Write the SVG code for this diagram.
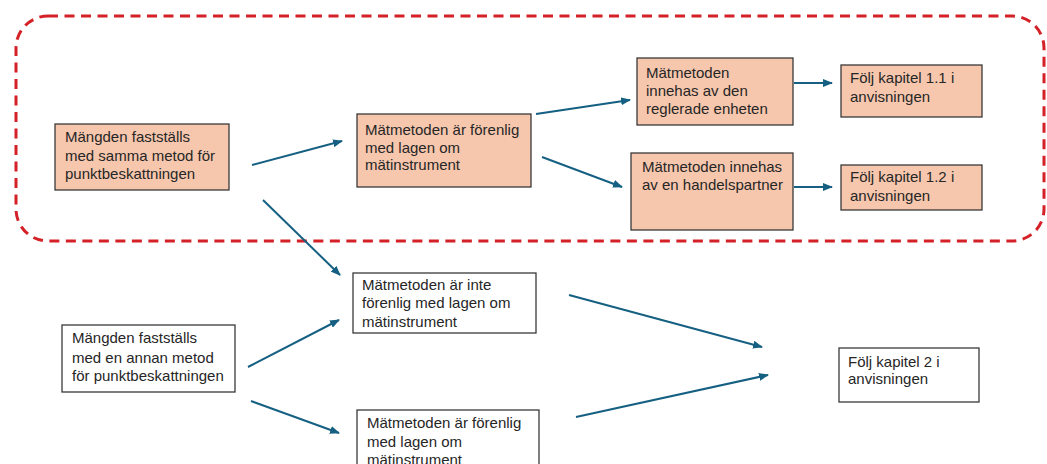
<svg xmlns="http://www.w3.org/2000/svg" width="1047" height="464" viewBox="0 0 1047 464">
<style>
.bg{fill:#ffffff}
.orange{fill:#F6C6AD;stroke:#3a3a3a;stroke-width:1.3}
.white{fill:#ffffff;stroke:#3a3a3a;stroke-width:1.3}
.lbl{font-family:"Liberation Sans",Arial,sans-serif;font-size:15px;fill:#262626}
.conn{stroke:#156082;stroke-width:2;fill:none;marker-end:url(#arr)}
.group{fill:none;stroke:#D42027;stroke-width:3;stroke-dasharray:10 6.5}
</style>
<defs>
<marker id="arr" markerUnits="userSpaceOnUse" markerWidth="10" markerHeight="8" refX="9" refY="4" orient="auto">
<path d="M0,0 L10,4 L0,8 Z" fill="#156082"/>
</marker>
</defs>
<rect class="bg" x="0" y="0" width="1047" height="464"/>
<g id="group-boundary">
<rect class="group" x="16" y="16" width="1028" height="225" rx="32" ry="32"/>
</g>
<g id="connectors">
<line class="conn" x1="252" y1="165" x2="342" y2="141"/>
<line class="conn" x1="263" y1="200" x2="340" y2="275"/>
<line class="conn" x1="536" y1="114" x2="630" y2="100"/>
<line class="conn" x1="542" y1="157" x2="622" y2="187"/>
<line class="conn" x1="794" y1="83" x2="832" y2="83"/>
<line class="conn" x1="794" y1="187" x2="832" y2="187"/>
<line class="conn" x1="248" y1="367" x2="339" y2="320"/>
<line class="conn" x1="251" y1="401" x2="339" y2="433"/>
<line class="conn" x1="569" y1="295" x2="762" y2="347"/>
<line class="conn" x1="576" y1="417" x2="768" y2="375"/>
</g>
<g id="node-same-method">
<rect class="orange" x="55" y="124" width="174" height="66"/>
<text class="lbl" x="65" y="142">Mängden fastställs</text>
<text class="lbl" x="65" y="161">med samma metod för</text>
<text class="lbl" x="65" y="179">punktbeskattningen</text>
</g>
<g id="node-compatible-top">
<rect class="orange" x="357" y="114" width="174" height="73"/>
<text class="lbl" x="365" y="135">Mätmetoden är förenlig</text>
<text class="lbl" x="365" y="153">med lagen om</text>
<text class="lbl" x="365" y="170">mätinstrument</text>
</g>
<g id="node-owned-regulated">
<rect class="orange" x="637" y="58" width="156" height="67"/>
<text class="lbl" x="646" y="78">Mätmetoden</text>
<text class="lbl" x="646" y="96">innehas av den</text>
<text class="lbl" x="646" y="114">reglerade enheten</text>
</g>
<g id="node-owned-partner">
<rect class="orange" x="631" y="153" width="162" height="77"/>
<text class="lbl" x="642" y="172">Mätmetoden innehas</text>
<text class="lbl" x="642" y="190">av en handelspartner</text>
</g>
<g id="node-chapter-1-1">
<rect class="orange" x="841" y="65" width="141" height="52"/>
<text class="lbl" x="850" y="83">Följ kapitel 1.1 i</text>
<text class="lbl" x="850" y="102">anvisningen</text>
</g>
<g id="node-chapter-1-2">
<rect class="orange" x="841" y="165" width="141" height="45"/>
<text class="lbl" x="850" y="182">Följ kapitel 1.2 i</text>
<text class="lbl" x="850" y="201">anvisningen</text>
</g>
<g id="node-not-compatible">
<rect class="white" x="353" y="273" width="183" height="60"/>
<text class="lbl" x="362" y="290">Mätmetoden är inte</text>
<text class="lbl" x="362" y="308">förenlig med lagen om</text>
<text class="lbl" x="362" y="327">mätinstrument</text>
</g>
<g id="node-other-method">
<rect class="white" x="62" y="325" width="173" height="67"/>
<text class="lbl" x="72" y="343">Mängden fastställs</text>
<text class="lbl" x="72" y="363">med en annan metod</text>
<text class="lbl" x="72" y="381">för punktbeskattningen</text>
</g>
<g id="node-compatible-bottom">
<rect class="white" x="357" y="410" width="182" height="70"/>
<text class="lbl" x="367" y="428">Mätmetoden är förenlig</text>
<text class="lbl" x="367" y="447">med lagen om</text>
<text class="lbl" x="367" y="465">mätinstrument</text>
</g>
<g id="node-chapter-2">
<rect class="white" x="839" y="348" width="140" height="54"/>
<text class="lbl" x="848" y="367">Följ kapitel 2 i</text>
<text class="lbl" x="848" y="384">anvisningen</text>
</g>
</svg>
